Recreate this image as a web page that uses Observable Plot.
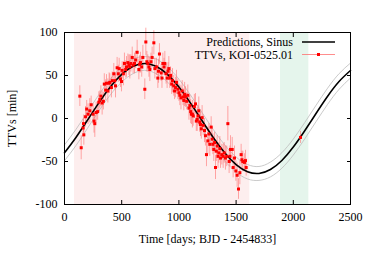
<!DOCTYPE html>
<html><head><meta charset="utf-8">
<script src="https://cdn.jsdelivr.net/npm/d3@7"></script>
<script src="https://cdn.jsdelivr.net/npm/@observablehq/plot@0.6"></script>
<style>body{margin:0;background:#fff}</style>
</head><body><div id="chart"></div>
<script>
// Observed TTVs (days, minutes, error in minutes)
const ttvTime = [134,146,163,169,166,184,194,206,221,233,250,258,265,277,290,300,309,318,329,340,348,360,367,379,390,396,410,417,431,440,446,460,470,478,490,498,504,515,524,535,542,554,563,571,580,592,600,612,622,635,650,657,664,675,685,702,711,720,728,738,746,756,766,781,790,804,816,822,830,845,852,860,870,877,888,897,905,912,920,927,937,944,955,962,971,979,991,1000,1008,1018,1029,1036,1043,1050,1058,1068,1078,1088,1096,1103,1110,1118,1125,1135,1145,1152,1160,1168,1174,1182,1189,1196,1203,1212,1224,1232,1241,1253,1262,1270,1282,1290,1297,1305,1312,1320,1327,1334,1342,1349,1358,1364,1375,1387,1396,1407,1418,1428,1439,1446,1451,1466,1474,1486,1498,1509,1521,1533,1544,1551,1559,1573,1582,1588,2063];
const ttvValue = [26,-34,-11,-19,-6,2,11,5,9,16,5,-3,-6,7,8,19,22,26,18,20,40,33,41,32,41,42,36,44,52,44,38,59,52,58,46,43,56,52,64,57,60,65,62,60,64,71,62,64,68,77,57,63,65,60,71,34,89,66,64,60,57,66,71,88,58,60,47,55,75,53,47,64,60,64,52,47,55,58,47,50,40,44,38,32,36,42,34,30,27,24,32,25,21,28,25,20,27,12,15,8,5,5,3,14,17,-3,-1,3,9,-4,-7,-12,1,-8,-14,-20,-42,-26,-18,-30,-10,-24,-30,-36,-28,-57,-38,-32,-44,-40,-35,-46,-42,-44,-40,-46,-44,-6,-50,-44,-36,-36,-57,-46,-61,-66,-82,-63,-42,-48,-50,-51,-49,-57,-22];
const ttvError = [12,14,10,12,10,12,10,12,14,10,12,14,16,12,10,12,10,12,14,10,12,12,10,14,12,10,12,10,12,10,14,12,10,12,10,12,10,14,12,10,12,10,12,14,10,12,10,12,10,14,12,10,12,12,14,12,16,12,10,12,14,10,12,14,12,10,12,14,12,10,12,12,10,14,12,12,10,14,12,10,12,14,12,10,12,14,12,10,12,14,12,10,12,14,12,10,12,14,12,14,12,16,12,14,12,12,14,12,16,12,14,12,14,12,14,12,14,16,12,14,12,14,12,14,12,14,12,12,14,12,14,12,12,14,12,14,12,20,14,12,16,14,12,14,12,14,12,14,12,10,12,10,12,10,7];

// Sinusoidal prediction, with its grey envelope
const modelTime  = [0,100,200,300,400,500,600,700,800,900,1000,1100,1200,1300,1400,1500,1600,1700,1800,1900,2000,2100,2200,2300,2400,2500];
const modelValue = [-39.9,-22.1,-2.1,18.2,36.6,51.3,60.7,64,60.7,51.3,36.6,18.2,-2.1,-22.1,-39.9,-53.6,-61.9,-63.9,-59.3,-48.8,-33.2,-14.2,6.1,25.9,43.0,55.8];
const modelUpper = [-30.7,-12.7,7.4,27.6,45.8,60.2,69.2,72,69.2,60.2,45.8,27.6,7.4,-12.7,-30.7,-44.8,-53.5,-55.8,-50.7,-39.8,-23.9,-4.7,15.6,35.3,52.1,64.5];
const modelLower = [-49.1,-31.5,-11.6,8.8,27.4,42.4,52.2,56,52.2,42.4,27.4,8.8,-11.6,-31.5,-49.1,-62.4,-70.3,-72.0,-67.9,-57.8,-42.5,-23.7,-3.4,16.5,33.9,47.1];

// Shaded time windows
const observedWindow = [87, 1620];
const futureWindow = [1888, 2136];

const xTicks = [0,500,1000,1500,2000,2500];
const yTicks = [-100,-50,0,50,100];
const seriesNames = ["Predictions, Sinus", "TTVs, KOI-0525.01"];

const ttv = ttvTime.map((t,i)=>({t, v: ttvValue[i], e: ttvError[i]}));
const model = modelTime.map((t,i)=>({t, v: modelValue[i], hi: modelUpper[i], lo: modelLower[i]}));

const font = "'Liberation Serif', 'Times New Roman', serif";
const plain = d => String(d);
const chart = Plot.plot({
  width: 374, height: 262,
  marginLeft: 64, marginRight: 24, marginTop: 32, marginBottom: 58,
  style: {fontFamily: font, fontSize: "12px", color: "black", background: "white"},
  x: {domain: [0, 2500]},
  y: {domain: [-100, 100]},
  marks: [
    Plot.rect([observedWindow], {x1: d=>d[0], x2: d=>d[1], fill: "#fdeeee"}),
    Plot.rect([futureWindow], {x1: d=>d[0], x2: d=>d[1], fill: "#e5f5ec"}),
    Plot.line(model, {x: "t", y: "hi", stroke: "#bdbdbd", strokeWidth: 0.8, curve: "natural"}),
    Plot.line(model, {x: "t", y: "lo", stroke: "#bdbdbd", strokeWidth: 0.8, curve: "natural"}),
    Plot.ruleX(ttv, {x: "t", y1: d=>d.v-d.e, y2: d=>d.v+d.e, stroke: "#ff7070", strokeOpacity: 0.6, strokeWidth: 1}),
    Plot.line(model, {x: "t", y: "v", stroke: "black", strokeWidth: 1.6, curve: "natural"}),
    Plot.dot(ttv, {x: "t", y: "v", fill: "red", r: 1.7, symbol: "square"}),
    Plot.frame({stroke: "black"}),
    Plot.axisX({ticks: xTicks, anchor: "bottom", tickSize: -4, tickPadding: 12, tickFormat: plain,
      label: "Time [days; BJD - 2454833]", labelAnchor: "center", labelArrow: "none", labelOffset: 38}),
    Plot.axisX({ticks: xTicks, anchor: "top", tickSize: -4, tickFormat: () => "", label: null}),
    Plot.axisY({ticks: yTicks, anchor: "left", tickSize: -4, tickPadding: 11, tickFormat: plain,
      label: "TTVs [min]", labelAnchor: "center", labelArrow: "none", labelOffset: 57}),
    Plot.axisY({ticks: yTicks, anchor: "right", tickSize: -4, tickFormat: () => "", label: null})
  ]
});
document.getElementById("chart").appendChild(chart);

// Legend
const svg = d3.select(chart);
const lg = svg.append("g").attr("font-family", font).attr("font-size", 12).attr("fill", "black");
const rows = [42, 54.5];
lg.append("text").attr("x", 293).attr("y", rows[0]).attr("text-anchor", "end").attr("dy", "0.35em").text(seriesNames[0]);
lg.append("text").attr("x", 293).attr("y", rows[1]).attr("text-anchor", "end").attr("dy", "0.35em").text(seriesNames[1]);
lg.append("line").attr("x1", 302).attr("x2", 335).attr("y1", rows[0]).attr("y2", rows[0]).attr("stroke", "black").attr("stroke-width", 1.6);
lg.append("line").attr("x1", 302).attr("x2", 335).attr("y1", rows[1]).attr("y2", rows[1]).attr("stroke", "#ff7070").attr("stroke-opacity", 0.8);
lg.append("rect").attr("x", 317).attr("y", rows[1]-1.5).attr("width", 3).attr("height", 3).attr("fill", "red");
</script>
</body></html>
